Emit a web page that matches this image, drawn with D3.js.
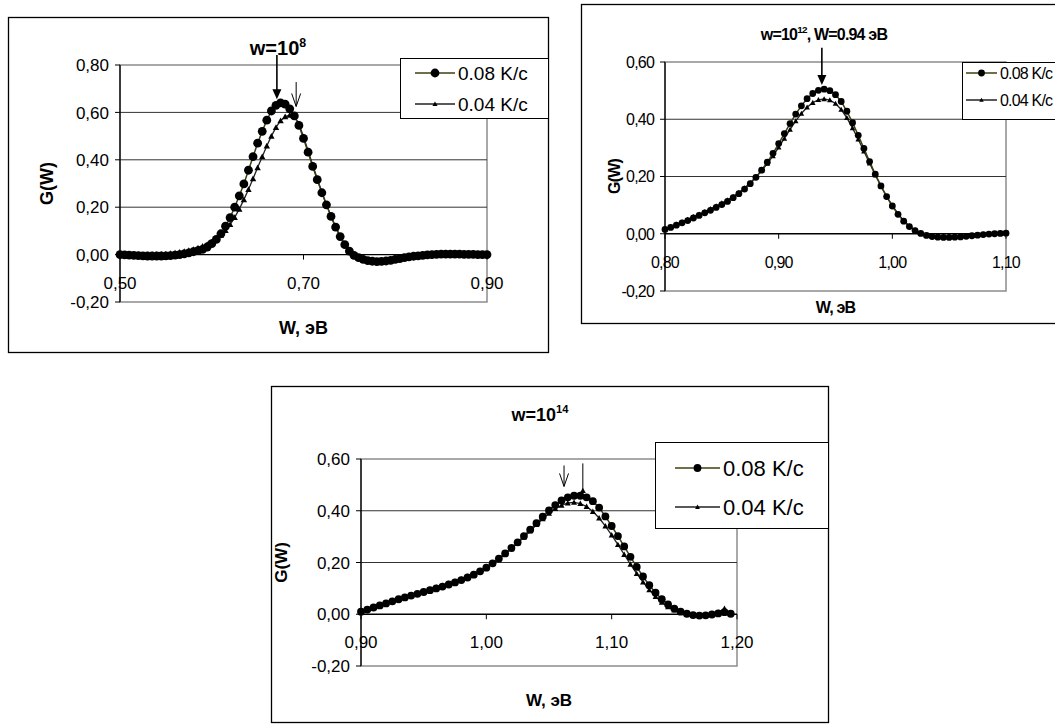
<!DOCTYPE html>
<html>
<head>
<meta charset="utf-8">
<script src="https://cdn.jsdelivr.net/npm/d3@7"></script>
<style>
  html, body { margin: 0; padding: 0; background: #fff; }
  svg { display: block; font-family: "Liberation Sans", Arial, sans-serif; }
</style>
</head>
<body>
<svg id="chart" width="1055" height="725"></svg>
<script>
//=========================================================================
// Data
//=========================================================================

const seriesNames = ["0.08 K/c", "0.04 K/c"];

// w = 10^8
const p1_W = [0.500,0.505,0.510,0.515,0.520,0.525,0.530,0.535,0.540,0.545,
  0.550,0.555,0.560,0.565,0.570,0.575,0.580,0.585,0.590,0.595,
  0.600,0.605,0.610,0.615,0.620,0.625,0.630,0.635,0.640,0.645,
  0.650,0.655,0.660,0.665,0.670,0.675,0.680,0.685,0.690,0.695,
  0.700,0.705,0.710,0.715,0.720,0.725,0.730,0.735,0.740,0.745,
  0.750,0.755,0.760,0.765,0.770,0.775,0.780,0.785,0.790,0.795,
  0.800,0.805,0.810,0.815,0.820,0.825,0.830,0.835,0.840,0.845,
  0.850,0.855,0.860,0.865,0.870,0.875,0.880,0.885,0.890,0.895,0.900];
const p1_fast = [0.000,-0.001,-0.002,-0.003,-0.004,-0.005,-0.006,-0.006,-0.006,-0.006,
  -0.005,-0.004,-0.002,0.000,0.003,0.007,0.012,0.017,0.022,0.032,
  0.046,0.064,0.088,0.120,0.156,0.200,0.248,0.298,0.356,0.413,
  0.470,0.520,0.567,0.606,0.630,0.640,0.635,0.615,0.585,0.545,
  0.490,0.432,0.372,0.316,0.261,0.210,0.161,0.116,0.076,0.042,
  0.015,-0.003,-0.013,-0.020,-0.025,-0.028,-0.030,-0.029,-0.027,-0.024,
  -0.020,-0.017,-0.013,-0.010,-0.007,-0.005,-0.003,-0.001,0.000,0.001,
  0.002,0.002,0.002,0.002,0.002,0.001,0.001,0.001,0.000,0.000,0.000];
const p1_slow = [0.000,0.000,-0.001,-0.001,-0.001,-0.001,0.000,0.000,0.001,0.002,
  0.003,0.005,0.007,0.010,0.013,0.017,0.022,0.028,0.035,0.043,
  0.053,0.066,0.082,0.102,0.127,0.157,0.192,0.232,0.275,0.320,
  0.367,0.413,0.458,0.500,0.537,0.565,0.582,0.588,0.584,0.552,
  0.497,0.438,0.378,0.320,0.264,0.212,0.162,0.117,0.077,0.043,
  0.016,-0.003,-0.013,-0.020,-0.024,-0.027,-0.028,-0.028,-0.026,-0.023,
  -0.019,-0.016,-0.012,-0.009,-0.006,-0.004,-0.002,-0.001,0.000,0.001,
  0.001,0.002,0.002,0.002,0.001,0.001,0.001,0.000,0.000,0.000,0.000];
const p1_xTicks = [0.5, 0.7, 0.9];
const p1_yTicks = [-0.2, 0, 0.2, 0.4, 0.6, 0.8];

// w = 10^12
const p2_W = [0.800,0.805,0.810,0.815,0.820,0.825,0.830,0.835,0.840,0.845,
  0.850,0.855,0.860,0.865,0.870,0.875,0.880,0.885,0.890,0.895,
  0.900,0.905,0.910,0.915,0.920,0.925,0.930,0.935,0.940,0.945,
  0.950,0.955,0.960,0.965,0.970,0.975,0.980,0.985,0.990,0.995,
  1.000,1.005,1.010,1.015,1.020,1.025,1.030,1.035,1.040,1.045,
  1.050,1.055,1.060,1.065,1.070,1.075,1.080,1.085,1.090,1.095,1.100];
const p2_fast = [0.015,0.022,0.030,0.038,0.046,0.055,0.064,0.073,0.082,0.092,
  0.102,0.113,0.126,0.140,0.156,0.175,0.197,0.222,0.250,0.281,
  0.315,0.350,0.385,0.418,0.447,0.472,0.490,0.501,0.505,0.500,
  0.486,0.462,0.428,0.388,0.344,0.298,0.252,0.208,0.167,0.130,
  0.097,0.068,0.044,0.025,0.011,0.001,-0.006,-0.010,-0.012,-0.013,
  -0.013,-0.012,-0.011,-0.009,-0.007,-0.005,-0.003,-0.001,0.000,0.001,0.002];
const p2_slow = [0.018,0.025,0.033,0.041,0.050,0.059,0.068,0.077,0.087,0.097,
  0.107,0.118,0.130,0.144,0.160,0.178,0.198,0.220,0.245,0.272,
  0.302,0.333,0.364,0.394,0.420,0.442,0.458,0.468,0.471,0.467,
  0.455,0.434,0.405,0.369,0.330,0.288,0.246,0.205,0.166,0.130,
  0.098,0.070,0.046,0.027,0.013,0.003,-0.004,-0.008,-0.010,-0.011,
  -0.011,-0.010,-0.009,-0.008,-0.006,-0.004,-0.002,-0.001,0.000,0.001,0.002];
const p2_xTicks = [0.8, 0.9, 1.0, 1.1];
const p2_yTicks = [-0.2, 0, 0.2, 0.4, 0.6];

// w = 10^14
const p3_W = [0.900,0.905,0.910,0.915,0.920,0.925,0.930,0.935,0.940,0.945,
  0.950,0.955,0.960,0.965,0.970,0.975,0.980,0.985,0.990,0.995,
  1.000,1.005,1.010,1.015,1.020,1.025,1.030,1.035,1.040,1.045,
  1.050,1.055,1.060,1.065,1.070,1.075,1.080,1.085,1.090,1.095,
  1.100,1.105,1.110,1.115,1.120,1.125,1.130,1.135,1.140,1.145,
  1.150,1.155,1.160,1.165,1.170,1.175,1.180,1.185,1.190,1.195];
const p3_fast = [0.010,0.018,0.026,0.034,0.042,0.050,0.058,0.065,0.072,0.079,
  0.086,0.093,0.100,0.107,0.115,0.123,0.132,0.142,0.153,0.166,
  0.180,0.197,0.215,0.235,0.256,0.278,0.302,0.327,0.352,0.377,
  0.401,0.422,0.440,0.452,0.458,0.458,0.452,0.437,0.412,0.378,
  0.341,0.302,0.262,0.222,0.183,0.146,0.112,0.083,0.058,0.038,
  0.022,0.010,0.002,-0.003,-0.005,-0.004,-0.001,0.003,0.008,0.002];
const p3_slow = [0.012,0.020,0.028,0.036,0.044,0.052,0.060,0.068,0.075,0.082,
  0.090,0.097,0.104,0.111,0.119,0.127,0.136,0.146,0.157,0.169,
  0.182,0.197,0.214,0.233,0.253,0.275,0.298,0.322,0.346,0.369,
  0.390,0.408,0.421,0.430,0.432,0.428,0.416,0.397,0.372,0.341,
  0.306,0.269,0.231,0.193,0.157,0.124,0.094,0.068,0.046,0.029,
  0.016,0.007,0.001,-0.003,-0.004,-0.003,0.000,0.007,0.022,0.003];
const p3_xTicks = [0.9, 1.0, 1.1, 1.2];
const p3_yTicks = [-0.2, 0, 0.2, 0.4, 0.6];

//=========================================================================
// Panel layout
//=========================================================================

const svg = d3.select("#chart");
const fmt = v => d3.format(".2f")(v).replace(".", ",").replace("−", "-");

const panels = [
  { box: [8, 17, 540, 335], plot: [120, 65, 487, 302],
    xDomain: [0.5, 0.9], yDomain: [-0.2, 0.8],
    W: p1_W, fast: p1_fast, slow: p1_slow, xTicks: p1_xTicks, yTicks: p1_yTicks,
    fontSize: 17, titleSize: 20, axisTitleSize: 18, spacing: 0,
    title: ["w=10", "8", ""], titleX: 278, titleY: 55,
    yTitleX: 53, xTitleY: 334,
    legend: [400, 58, 148, 60], legendSize: 19, legendRows: [73, 104],
    legendLine: [415, 455], r: 4.4, tri: 3.2,
    arrows: [{ x: 0.671, y0: 0.842, y1: 0.655, type: "solid" },
             { x: 0.692, y0: 0.728, y1: 0.625, type: "open" }] },
  { box: [581, 4, 490, 319], plot: [665, 62, 1006, 291],
    xDomain: [0.8, 1.1], yDomain: [-0.2, 0.6],
    W: p2_W, fast: p2_fast, slow: p2_slow, xTicks: p2_xTicks, yTicks: p2_yTicks,
    fontSize: 16, titleSize: 16, axisTitleSize: 16, spacing: -0.8,
    title: ["w=10", "12", ", W=0.94 эВ"], titleX: 824, titleY: 40,
    yTitleX: 620, xTitleY: 313,
    legend: [962, 62, 110, 57], legendSize: 16, legendRows: [73, 100],
    legendLine: [966, 997], r: 3.4, tri: 2.8,
    arrows: [{ x: 0.938, y0: 0.65, y1: 0.52, type: "solid" }] },
  { box: [271, 386, 557, 336], plot: [361, 459, 737, 666],
    xDomain: [0.9, 1.2], yDomain: [-0.2, 0.6],
    W: p3_W, fast: p3_fast, slow: p3_slow, xTicks: p3_xTicks, yTicks: p3_yTicks,
    fontSize: 17, titleSize: 18, axisTitleSize: 17, spacing: 0,
    title: ["w=10", "14", ""], titleX: 540, titleY: 421,
    yTitleX: 287, xTitleY: 706,
    legend: [655, 442, 173, 86], legendSize: 22, legendRows: [468, 507],
    legendLine: [675, 720], r: 3.9, tri: 3.0,
    arrows: [{ x: 1.062, y0: 0.575, y1: 0.494, type: "open" },
             { x: 1.077, y0: 0.583, y1: 0.47, type: "line" }] }
];

const lineColor = ["#3f3f10", "#222"];

function triPath(cx, cy, s) {
  return `M${cx},${cy - s}L${cx + s},${cy + s * 0.8}L${cx - s},${cy + s * 0.8}Z`;
}

function drawPanel(p) {
  const g = svg.append("g").style("letter-spacing", p.spacing + "px");

  // outer frame
  g.append("rect")
    .attr("x", p.box[0] + 0.5).attr("y", p.box[1] + 0.5)
    .attr("width", p.box[2]).attr("height", p.box[3])
    .attr("fill", "#fff").attr("stroke", "#000").attr("stroke-width", 1.3);

  const [l, t, r, b] = p.plot;
  const x = d3.scaleLinear().domain(p.xDomain).range([l, r]);
  const y = d3.scaleLinear().domain(p.yDomain).range([b, t]);

  // plot area border (grey) and gridlines
  g.append("rect").attr("x", l).attr("y", t).attr("width", r - l).attr("height", b - t)
    .attr("fill", "none").attr("stroke", "#8c8c8c").attr("stroke-width", 1.5);
  g.selectAll(".grid").data(p.yTicks.filter(v => v > p.yDomain[0] && v !== 0 && v < p.yDomain[1]))
    .enter().append("line")
    .attr("x1", l).attr("x2", r).attr("y1", d => y(d)).attr("y2", d => y(d))
    .attr("stroke", "#333").attr("stroke-width", 1);

  // y tick labels + ticks
  g.selectAll(".ylab").data(p.yTicks).enter().append("text")
    .attr("x", l - 11).attr("y", d => y(d)).attr("dy", "0.36em")
    .attr("text-anchor", "end").attr("font-size", p.fontSize).text(fmt);
  g.selectAll(".ytick").data(p.yTicks).enter().append("line")
    .attr("x1", l - 5).attr("x2", l).attr("y1", d => y(d)).attr("y2", d => y(d))
    .attr("stroke", "#000");

  // x tick labels (just below the zero line)
  g.selectAll(".xlab").data(p.xTicks).enter().append("text")
    .attr("x", d => x(d)).attr("y", y(0) + 28).attr("dy", "0.36em")
    .attr("text-anchor", "middle").attr("font-size", p.fontSize).text(fmt);
  g.selectAll(".xtick").data(p.xTicks).enter().append("line")
    .attr("x1", d => x(d)).attr("x2", d => x(d)).attr("y1", y(0)).attr("y2", y(0) + 5)
    .attr("stroke", "#000");

  // axes lines
  g.append("line").attr("x1", l).attr("x2", l).attr("y1", t).attr("y2", b)
    .attr("stroke", "#000").attr("stroke-width", 1.3);
  g.append("line").attr("x1", l).attr("x2", r).attr("y1", y(0)).attr("y2", y(0))
    .attr("stroke", "#000").attr("stroke-width", 1.3);

  // axis titles
  g.append("text")
    .attr("transform", `translate(${p.yTitleX},${(t + b) / 2}) rotate(-90)`)
    .attr("text-anchor", "middle").attr("font-weight", "bold")
    .attr("font-size", p.axisTitleSize).text("G(W)");
  g.append("text")
    .attr("x", (l + r) / 2).attr("y", p.xTitleY)
    .attr("text-anchor", "middle").attr("font-weight", "bold")
    .attr("font-size", p.axisTitleSize).text("W, эВ");

  // chart title with superscript
  const tt = g.append("text").attr("x", p.titleX).attr("y", p.titleY)
    .attr("text-anchor", "middle").attr("font-weight", "bold").attr("font-size", p.titleSize);
  tt.append("tspan").text(p.title[0]);
  tt.append("tspan").attr("dy", -p.titleSize * 0.42).attr("font-size", p.titleSize * 0.62).text(p.title[1]);
  tt.append("tspan").attr("dy", p.titleSize * 0.42).text(p.title[2]);

  // series
  const pts = (vals) => p.W.map((w, i) => [w, vals[i]]);
  const line = d3.line().x(d => x(d[0])).y(d => y(d[1]));

  g.append("path").datum(pts(p.slow)).attr("d", line)
    .attr("fill", "none").attr("stroke", lineColor[1]).attr("stroke-width", 1.3);
  g.selectAll(".tri").data(pts(p.slow)).enter().append("path")
    .attr("d", d => triPath(x(d[0]), y(d[1]), p.tri)).attr("fill", "#000");

  g.append("path").datum(pts(p.fast)).attr("d", line)
    .attr("fill", "none").attr("stroke", lineColor[0]).attr("stroke-width", 1.5);
  g.selectAll(".dot").data(pts(p.fast)).enter().append("circle")
    .attr("cx", d => x(d[0])).attr("cy", d => y(d[1])).attr("r", p.r).attr("fill", "#000");

  // arrows
  p.arrows.forEach(a => {
    const ax = x(a.x), y0 = y(a.y0), y1 = y(a.y1);
    if (a.type === "solid") {
      g.append("line").attr("x1", ax).attr("x2", ax).attr("y1", y0).attr("y2", y1 - 8)
        .attr("stroke", "#000").attr("stroke-width", 1.6);
      g.append("path").attr("d", `M${ax - 4.5},${y1 - 10}L${ax + 4.5},${y1 - 10}L${ax},${y1}Z`).attr("fill", "#000");
    } else if (a.type === "open") {
      g.append("line").attr("x1", ax).attr("x2", ax).attr("y1", y0).attr("y2", y1)
        .attr("stroke", "#000").attr("stroke-width", 1);
      g.append("path").attr("d", `M${ax - 4.5},${y1 - 13}L${ax},${y1}L${ax + 4.5},${y1 - 13}`)
        .attr("fill", "none").attr("stroke", "#000").attr("stroke-width", 1);
    } else {
      g.append("line").attr("x1", ax).attr("x2", ax).attr("y1", y0).attr("y2", y1)
        .attr("stroke", "#000").attr("stroke-width", 1);
      g.append("path").attr("d", triPath(ax, y1 - 2, 3)).attr("fill", "#000");
    }
  });

  // legend
  const [lx, ly, lw, lh] = p.legend;
  g.append("rect").attr("x", lx + 0.5).attr("y", ly + 0.5).attr("width", lw).attr("height", lh)
    .attr("fill", "#fff").attr("stroke", "#000").attr("stroke-width", 1);
  const [la, lb] = p.legendLine, lm = (la + lb) / 2;
  seriesNames.forEach((name, i) => {
    const ry = p.legendRows[i];
    g.append("line").attr("x1", la).attr("x2", lb).attr("y1", ry).attr("y2", ry)
      .attr("stroke", lineColor[i]).attr("stroke-width", 1.5);
    if (i === 0) g.append("circle").attr("cx", lm).attr("cy", ry).attr("r", p.r).attr("fill", "#000");
    else g.append("path").attr("d", triPath(lm, ry, p.tri * 0.8)).attr("fill", "#000");
    g.append("text").attr("x", lb + 3).attr("y", ry).attr("dy", "0.36em")
      .attr("font-size", p.legendSize).text(name);
  });
}

panels.forEach(drawPanel);
</script>
</body>
</html>
